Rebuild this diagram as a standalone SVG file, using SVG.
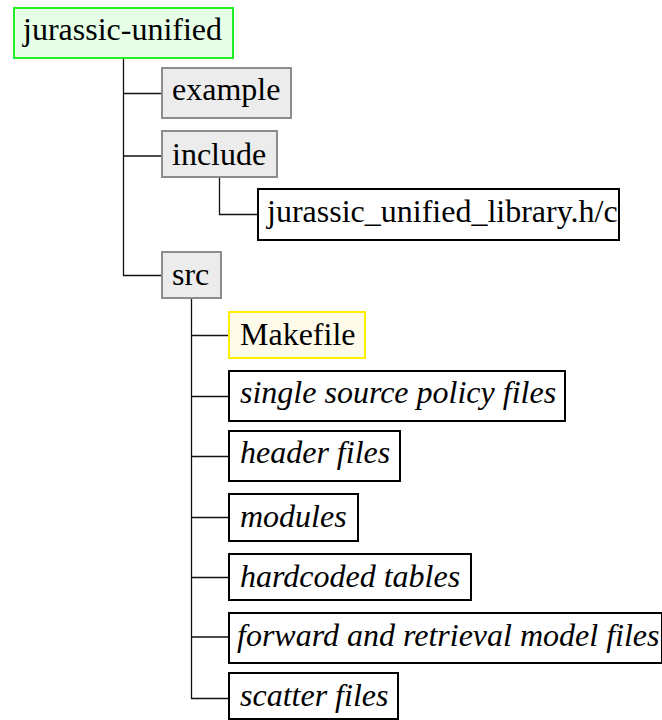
<svg xmlns="http://www.w3.org/2000/svg" width="662" height="720" viewBox="0 0 662 720">
<style>
text{font-size:32px;fill:#000}
.it{font-style:italic}
.root{fill:#e6ffe6;stroke:#22ee22;stroke-width:2}
.dir{fill:#ececec;stroke:#8c8c8c;stroke-width:2}
.mk{fill:#fffbea;stroke:#ffee00;stroke-width:2}
.file{fill:#fff;stroke:#000;stroke-width:2}
.con{fill:none;stroke:#111;stroke-width:1.3}
</style>
<rect width="662" height="720" fill="#fff"/>
<g id="connectors">
<path class="con" d="M123.5,58 V275.5 H162 M123.5,93.5 H162 M123.5,156 H162"/>
<path class="con" d="M219.5,177 V214.5 H258"/>
<path class="con" d="M191.5,298 V698.5 H229 M191.5,335.5 H229 M191.5,396.5 H229 M191.5,456.5 H229 M191.5,517.5 H229 M191.5,577.5 H229 M191.5,637 H229"/>
</g>
<g font-family="Liberation Serif, Times New Roman, DejaVu Serif, serif">
<g id="n-root"><rect class="root" x="14" y="8" width="219" height="50"/><text x="23" y="40">jurassic-unified</text></g>
<g id="n-example"><rect class="dir" x="162" y="68" width="129" height="50"/><text x="172" y="100">example</text></g>
<g id="n-include"><rect class="dir" x="162" y="131" width="115" height="46"/><text x="172" y="165">include</text></g>
<g id="n-lib"><rect class="file" x="258" y="189" width="361" height="51"/><text x="267" y="222">jurassic_unified_library.h/c</text></g>
<g id="n-src"><rect class="dir" x="162" y="252" width="59" height="46"/><text x="172" y="285">src</text></g>
<g id="n-makefile"><rect class="mk" x="229" y="312" width="136" height="46"/><text x="240" y="345">Makefile</text></g>
<g id="n-ssp"><rect class="file" x="229" y="371" width="336" height="50"/><text class="it" x="240" y="403">single source policy files</text></g>
<g id="n-header"><rect class="file" x="229" y="431" width="171" height="50"/><text class="it" x="240" y="463">header files</text></g>
<g id="n-modules"><rect class="file" x="229" y="494" width="129" height="47"/><text class="it" x="240" y="527">modules</text></g>
<g id="n-tables"><rect class="file" x="229" y="554" width="242" height="46"/><text class="it" x="240" y="587">hardcoded tables</text></g>
<g id="n-forward"><rect class="file" x="229" y="613" width="433" height="50"/><text class="it" x="237" y="646">forward and retrieval model files</text></g>
<g id="n-scatter"><rect class="file" x="229" y="673" width="169" height="46"/><text class="it" x="240" y="706">scatter files</text></g>
</g>
</svg>
